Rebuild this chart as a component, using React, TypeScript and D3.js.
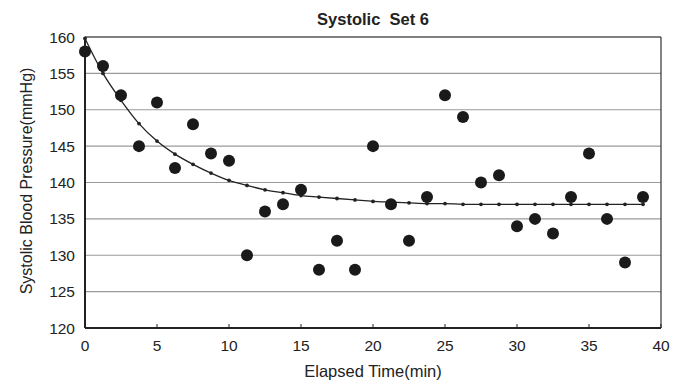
import React, { useMemo } from 'react';
import * as d3 from 'd3';

const times = [
  0, 1.25, 2.5, 3.75, 5, 6.25, 7.5, 8.75, 10, 11.25, 12.5, 13.75, 15, 16.25, 17.5, 18.75,
  20, 21.25, 22.5, 23.75, 25, 26.25, 27.5, 28.75, 30, 31.25, 32.5, 33.75, 35, 36.25, 37.5, 38.75,
];
const measured = [
  158, 156, 152, 145, 151, 142, 148, 144, 143, 130, 136, 137, 139, 128, 132, 128,
  145, 137, 132, 138, 152, 149, 140, 141, 134, 135, 133, 138, 144, 135, 129, 138,
];
const fitted = [
  159.8, 155.0, 151.3, 148.1, 145.7, 143.9, 142.5, 141.3, 140.3, 139.6, 139.0, 138.6, 138.2, 138.0, 137.8, 137.6,
  137.4, 137.3, 137.2, 137.1, 137.1, 137.0, 137.0, 137.0, 137.0, 137.0, 137.0, 137.0, 137.0, 137.0, 137.0, 137.0,
];
const xTicks = [0, 5, 10, 15, 20, 25, 30, 35, 40];
const yTicks = [120, 125, 130, 135, 140, 145, 150, 155, 160];

const W = 679;
const H = 382;
const margin = { top: 37, right: 18, bottom: 54, left: 85 };
const FONT = '"Liberation Sans", Arial, Helvetica, sans-serif';

export default function App() {
  const innerW = W - margin.left - margin.right;
  const innerH = H - margin.top - margin.bottom;

  const x = useMemo(() => d3.scaleLinear().domain([0, 40]).range([0, innerW]), [innerW]);
  const y = useMemo(() => d3.scaleLinear().domain([120, 160]).range([innerH, 0]), [innerH]);

  const fitPts = times.map((t, i) => ({ t, v: fitted[i] }));
  const line = d3
    .line<{ t: number; v: number }>()
    .x((d) => x(d.t))
    .y((d) => y(d.v))
    .curve(d3.curveMonotoneX);

  return (
    <svg width={W} height={H} style={{ position: 'absolute', left: 0, top: 0, background: '#fff' }}>
      <text x={margin.left + innerW / 2} y={25} textAnchor="middle" fontFamily={FONT} fontSize={16.5} fontWeight="bold" fill="#222" style={{ whiteSpace: 'pre' }}>
        {'Systolic  Set 6'}
      </text>
      <g transform={`translate(${margin.left},${margin.top})`}>
        {/* gridlines */}
        {yTicks.map((v) => (
          <line key={v} x1={0} x2={innerW} y1={y(v)} y2={y(v)} stroke="#9a9a9a" strokeWidth={1.2} />
        ))}
        {/* frame */}
        <line x1={0} x2={innerW} y1={0} y2={0} stroke="#333" strokeWidth={1.2} />
        <line x1={innerW} x2={innerW} y1={0} y2={innerH} stroke="#333" strokeWidth={1.2} />
        <line x1={0} x2={0} y1={0} y2={innerH} stroke="#222" strokeWidth={2} />
        <line x1={0} x2={innerW} y1={innerH} y2={innerH} stroke="#222" strokeWidth={2} />

        {/* x ticks */}
        {xTicks.map((t) => (
          <g key={t}>
            <line x1={x(t)} x2={x(t)} y1={innerH} y2={innerH - 4} stroke="#222" strokeWidth={1} />
            <text x={x(t)} y={innerH + 23} textAnchor="middle" fontFamily={FONT} fontSize={15.5} fill="#222">
              {t}
            </text>
          </g>
        ))}
        {yTicks.map((v) => (
          <text key={v} x={-10} y={y(v)} dy={5.5} textAnchor="end" fontFamily={FONT} fontSize={15.5} fill="#222">
            {v}
          </text>
        ))}

        {/* fitted curve */}
        <path d={line(fitPts) || undefined} fill="none" stroke="#222" strokeWidth={1.3} />
        {fitPts.map((d, i) => (
          <circle key={`f${i}`} cx={x(d.t)} cy={y(d.v)} r={1.9} fill="#222" />
        ))}

        {/* measured points */}
        {times.map((t, i) => (
          <circle key={`m${i}`} cx={x(t)} cy={y(measured[i])} r={6} fill="#1a1a1a" />
        ))}
      </g>

      <text x={margin.left + innerW / 2} y={377} textAnchor="middle" fontFamily={FONT} fontSize={16.5} fill="#222">
        Elapsed Time(min)
      </text>
      <text
        transform={`translate(32,${181}) rotate(-90)`}
        textAnchor="middle"
        fontFamily={FONT}
        fontSize={16}
        fill="#222"
      >
        Systolic Blood Pressure(mmHg)
      </text>
    </svg>
  );
}
